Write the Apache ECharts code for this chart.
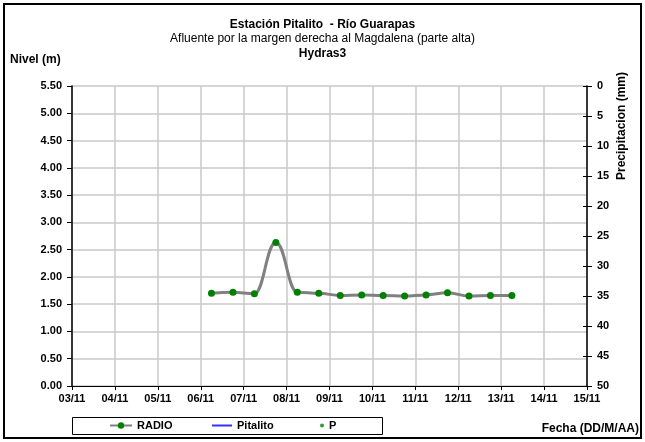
<!DOCTYPE html>
<html>
<head>
<meta charset="utf-8">
<script src="https://cdn.jsdelivr.net/npm/echarts@6/dist/echarts.min.js"></script>
<style>
  html, body { margin: 0; padding: 0; background: #fff; }
  #chart { width: 645px; height: 442px; }
</style>
</head>
<body>
<div id="chart"></div>
<script>
// fecha en dias de noviembre (6.25 = 06/11 06:00)
const dias = [6.25, 6.75, 7.25, 7.75, 8.25, 8.75, 9.25, 9.75, 10.25, 10.75, 11.25, 11.75, 12.25, 12.75, 13.25];
const nivelRadio = [1.70, 1.72, 1.69, 2.63, 1.72, 1.70, 1.66, 1.67, 1.66, 1.65, 1.67, 1.71, 1.65, 1.66, 1.66];
const nivelPitalito = [];
const precipitacion = [];
const diasEje = [3, 15];

const font = 'Liberation Sans, Arial, sans-serif';
const chart = echarts.init(document.getElementById('chart'));

const boldLabel = { color: '#000', fontSize: 11, fontWeight: 'bold', fontFamily: font };

chart.setOption({
    animation: false,
    textStyle: { fontFamily: font },
    title: [{
        text: 'Estación Pitalito  - Río Guarapas',
        left: 'center', top: 14,
        textStyle: { fontSize: 12, fontWeight: 'bold', color: '#000', fontFamily: font }
    }, {
        text: 'Afluente por la margen derecha al Magdalena (parte alta)',
        left: 'center', top: 28,
        textStyle: { fontSize: 12, fontWeight: 'normal', color: '#000', fontFamily: font }
    }, {
        text: 'Hydras3',
        left: 'center', top: 43,
        textStyle: { fontSize: 12, fontWeight: 'bold', color: '#000', fontFamily: font }
    }],
    grid: { left: 72, right: 58, top: 86, bottom: 56 },
    legend: [{
        data: ['RADIO'], left: 107, top: 418, padding: 2,
        itemWidth: 22, itemHeight: 8, itemGap: 4, textStyle: boldLabel
    }, {
        data: [{ name: 'Pitalito', icon: 'rect' }], left: 210, top: 418, padding: 2,
        itemWidth: 20, itemHeight: 2, textStyle: boldLabel
    }, {
        data: [{ name: 'P', icon: 'circle' }], left: 318, top: 418, padding: 2,
        itemWidth: 4, itemHeight: 4, itemGap: 6, textStyle: boldLabel
    }],
    xAxis: {
        type: 'value', min: diasEje[0], max: diasEje[1], interval: 1,
        axisLine: { lineStyle: { color: '#000', width: 1 } },
        axisTick: { show: true, length: 4, lineStyle: { color: '#000' } },
        axisLabel: Object.assign({
            margin: 7,
            formatter: v => String(v).padStart(2, '0') + '/11'
        }, boldLabel),
        splitLine: { show: true, lineStyle: { color: '#c8c8c8', width: 1.5 } }
    },
    yAxis: [{
        type: 'value', min: 0, max: 5.5, interval: 0.5,
        axisLine: { show: true, lineStyle: { color: '#000', width: 1.5 } },
        axisTick: { show: true, length: 5, lineStyle: { color: '#000' } },
        axisLabel: Object.assign({ margin: 10, formatter: v => v.toFixed(2) }, boldLabel),
        splitLine: { show: true, lineStyle: { color: '#c8c8c8', width: 1.5 } }
    }, {
        type: 'value', min: 0, max: 50, interval: 5, inverse: true, position: 'right',
        axisLine: { show: true, onZero: false, lineStyle: { color: '#000', width: 1.5 } },
        axisTick: { show: true, length: 5, lineStyle: { color: '#000' } },
        axisLabel: Object.assign({ margin: 10 }, boldLabel),
        splitLine: { show: false }
    }, {
        type: 'value', min: 0, max: 50, interval: 5, inverse: true, position: 'right',
        axisLine: { show: false, onZero: false },
        axisTick: { show: true, inside: true, length: 4, lineStyle: { color: '#000' } },
        axisLabel: { show: false },
        splitLine: { show: false }
    }],
    series: [{
        name: 'RADIO', type: 'line', yAxisIndex: 0,
        data: dias.map((d, i) => [d, nivelRadio[i]]),
        smooth: 0.45, smoothMonotone: 'x',
        symbol: 'circle', symbolSize: 7,
        lineStyle: { color: '#808080', width: 3 },
        itemStyle: { color: '#008000' }
    }, {
        name: 'Pitalito', type: 'line', yAxisIndex: 0,
        data: nivelPitalito, symbol: 'none',
        lineStyle: { color: '#3333ff', width: 2 },
        itemStyle: { color: '#3333ff' }
    }, {
        name: 'P', type: 'scatter', yAxisIndex: 1,
        data: precipitacion, symbol: 'circle', symbolSize: 3,
        itemStyle: { color: '#008000' }
    }],
    graphic: [{
        type: 'rect', silent: true,
        shape: { x: 4, y: 4, width: 637, height: 434 },
        style: { fill: 'none', stroke: '#000', lineWidth: 2 }
    }, {
        type: 'rect', silent: true,
        shape: { x: 72.5, y: 417.5, width: 310, height: 17 },
        style: { fill: 'none', stroke: '#000', lineWidth: 1 }
    }, {
        type: 'text', left: 10, top: 54,
        style: { text: 'Nivel (m)', fontSize: 12, fontWeight: 'bold', fill: '#000', fontFamily: font }
    }, {
        type: 'text', right: 6, top: 423,
        style: { text: 'Fecha (DD/M/AA)', fontSize: 12, fontWeight: 'bold', fill: '#000', fontFamily: font }
    }, {
        type: 'text', x: 622, y: 126, rotation: Math.PI / 2,
        style: {
            text: 'Precipitacion (mm)', fontSize: 12, fontWeight: 'bold', fill: '#000',
            fontFamily: font, align: 'center', verticalAlign: 'middle'
        }
    }]
});
</script>
</body>
</html>
